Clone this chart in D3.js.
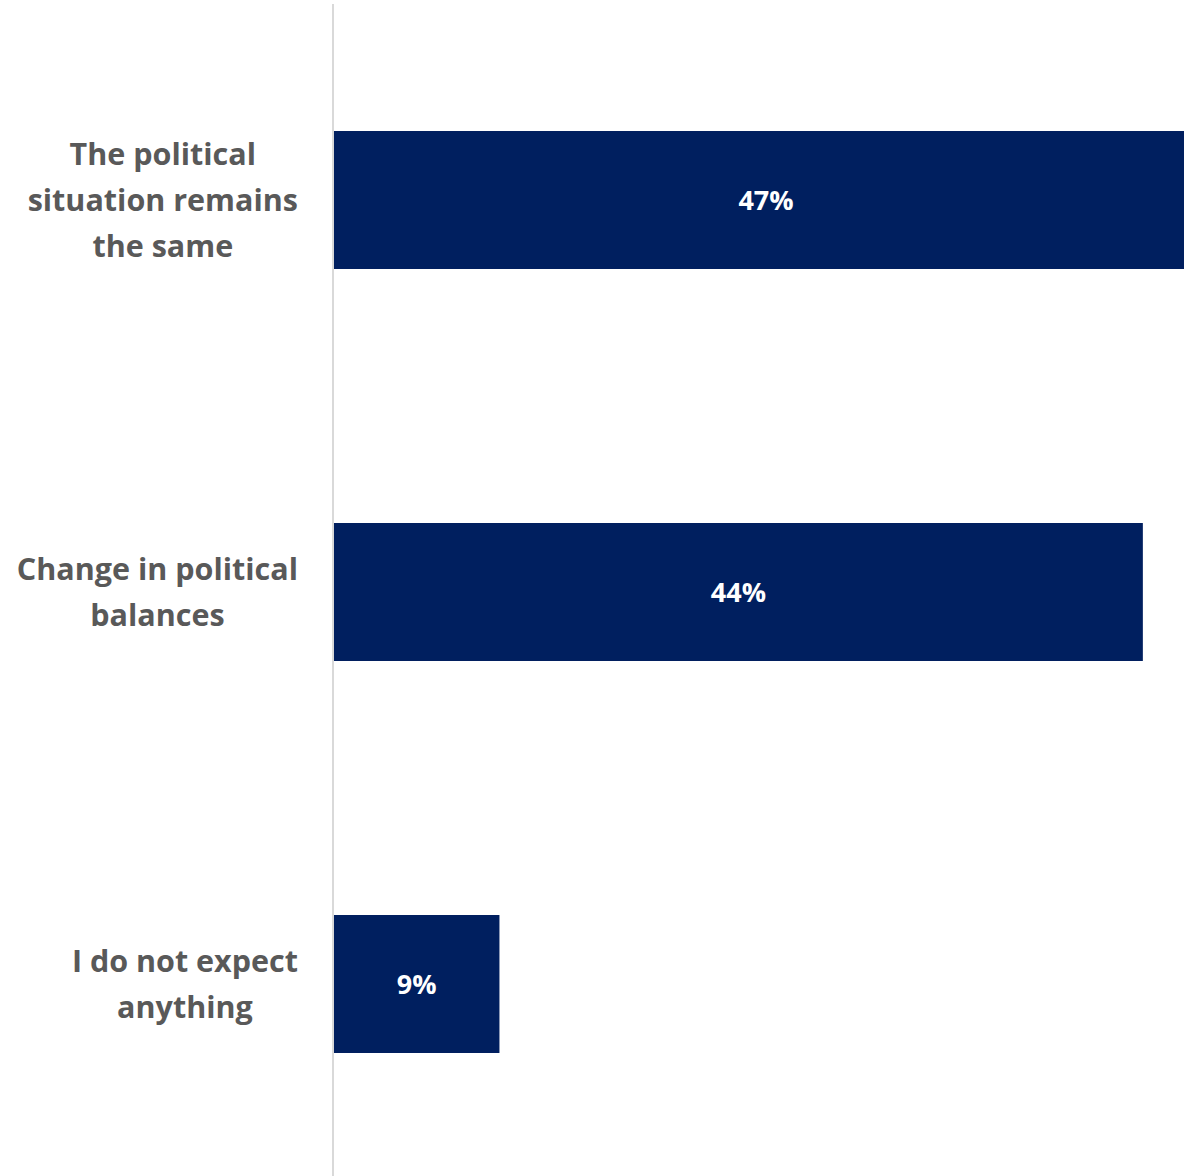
<!DOCTYPE html>
<html>
<head>
<meta charset="utf-8">
<script src="https://cdn.jsdelivr.net/npm/d3@7"></script>
<style>
  html, body { margin: 0; padding: 0; background: #ffffff; }
  svg { display: block; }
</style>
</head>
<body>
<svg id="chart" width="1184" height="1176"></svg>
<script>
// Survey answers and their shares (%)
const categories = [
  ["The political", "situation remains", "the same"],
  ["Change in political", "balances"],
  ["I do not expect", "anything"]
];
const values = [47, 44, 9];
const valueLabels = ["47%", "44%", "9%"];

const W = 1184, H = 1176;
const svg = d3.select("#chart");
const fontFamily = "'Open Sans', Lato, sans-serif";

const x = d3.scaleLinear().domain([0, 47]).range([334, 1198]);
const y = d3.scaleBand()
  .domain(d3.range(categories.length))
  .range([4, 1180])
  .paddingInner(0.648)
  .paddingOuter(0.324);

// Bars (first one runs past the right edge and is clipped)
svg.append("defs").append("clipPath").attr("id", "plotClip")
  .append("rect").attr("x", 0).attr("y", 0).attr("width", W).attr("height", H);

const g = svg.append("g").attr("clip-path", "url(#plotClip)");

g.selectAll("rect.bar")
  .data(values)
  .join("rect")
  .attr("class", "bar")
  .attr("x", x(0))
  .attr("y", (d, i) => y(i))
  .attr("width", d => x(d) - x(0))
  .attr("height", y.bandwidth())
  .attr("fill", "#001f5f");

// Value labels centred in each bar
g.selectAll("text.val")
  .data(values)
  .join("text")
  .attr("class", "val")
  .attr("x", d => (x(0) + x(d)) / 2)
  .attr("y", (d, i) => y(i) + y.bandwidth() / 2 + 1)
  .attr("dy", "0.35em")
  .attr("text-anchor", "middle")
  .attr("font-family", fontFamily)
  .attr("font-weight", 700)
  .attr("font-size", 27)
  .attr("fill", "#ffffff")
  .text((d, i) => valueLabels[i]);

// Category axis line
svg.append("line")
  .attr("x1", 333).attr("x2", 333)
  .attr("y1", 4).attr("y2", H)
  .attr("stroke", "#d9d9d9")
  .attr("stroke-width", 2);

// Category labels: each block is right-aligned to the axis, lines centred within it
const labelRight = 298;
const lineH = 46;
const lab = svg.append("g").attr("class", "cat-labels");
categories.forEach((lines, i) => {
  const cy = y(i) + y.bandwidth() / 2;
  const block = lab.append("g");
  const texts = lines.map((t, k) => block.append("text")
    .attr("y", cy + (k - (lines.length - 1) / 2) * lineH)
    .attr("dy", "0.35em")
    .attr("text-anchor", "middle")
    .attr("font-family", fontFamily)
    .attr("font-weight", 700)
    .attr("font-size", 30.5)
    .attr("fill", "#595959")
    .text(t));
  const maxW = d3.max(texts, t => t.node().getComputedTextLength());
  texts.forEach(t => t.attr("x", labelRight - maxW / 2));
});
</script>
</body>
</html>
